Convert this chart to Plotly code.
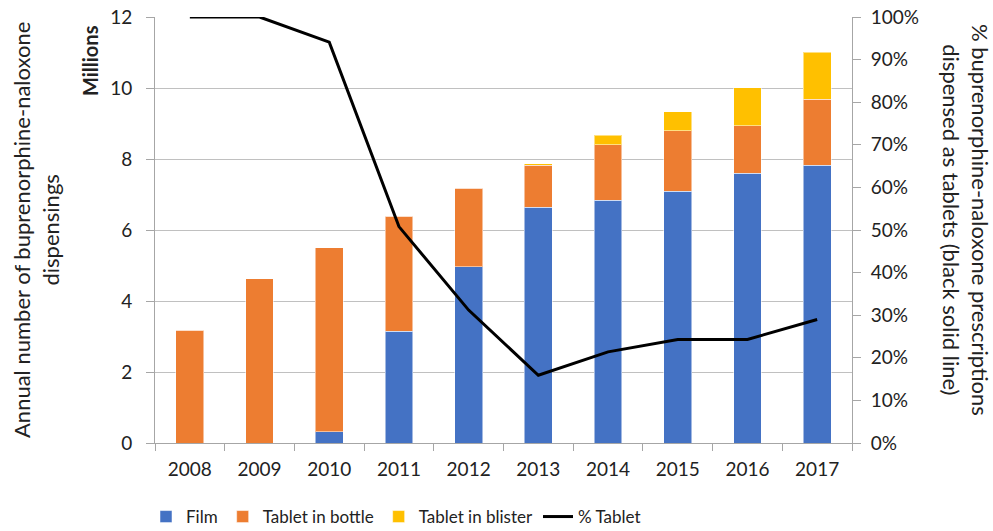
import plotly.graph_objects as go

years = ["2008", "2009", "2010", "2011", "2012", "2013", "2014", "2015", "2016", "2017"]
film = [0, 0, 0.32, 3.15, 4.96, 6.64, 6.84, 7.09, 7.60, 7.83]
tablet_bottle = [3.18, 4.63, 5.18, 3.24, 2.21, 1.19, 1.56, 1.70, 1.33, 1.86]
tablet_blister = [0, 0, 0, 0, 0, 0.03, 0.27, 0.54, 1.08, 1.32]
pct_tablet = [1.00, 1.00, 0.941, 0.508, 0.312, 0.159, 0.214, 0.243, 0.243, 0.290]

FONT = "Lato"
L, R, T, B = 155, 141, 17, 88
W, H = 993, 531
pw = W - L - R
ph = H - T - B


def px(x):
    return (x - L) / pw


def py(y):
    return (H - B - y) / ph


fig = go.Figure()
for name, vals, col in [("Film", film, "#4472C4"),
                        ("Tablet in bottle", tablet_bottle, "#ED7D31"),
                        ("Tablet in blister", tablet_blister, "#FFC000")]:
    fig.add_trace(go.Bar(x=years, y=vals, name=name,
                         marker=dict(color=col, line=dict(color="rgba(255,255,255,0.5)", width=1))))
fig.add_trace(go.Scatter(x=years, y=pct_tablet, name="% Tablet", yaxis="y2",
                         mode="lines", line=dict(color="black", width=3), cliponaxis=False))

fig.update_layout(
    width=W, height=H,
    margin=dict(l=L, r=R, t=T, b=B, autoexpand=False),
    barmode="stack", bargap=0.6,
    plot_bgcolor="white", paper_bgcolor="white",
    font=dict(family=FONT, size=19, color="#222"),
    showlegend=True,
    legend=dict(orientation="h", xref="container", x=146 / W, xanchor="left",
                yref="container", y=(H - 517) / H, yanchor="middle",
                font=dict(size=17), traceorder="normal"),
    xaxis=dict(type="category", showline=True, linecolor="#a6a6a6", linewidth=1,
               ticks="outside", tickson="boundaries", ticklen=7, tickcolor="#a6a6a6",
               tickfont=dict(size=19), automargin=False, ticklabelstandoff=9),
    yaxis=dict(range=[0, 12], dtick=2, showgrid=True, gridcolor="#c0c0c0", gridwidth=1,
               showline=True, linecolor="#a6a6a6", ticks="outside", ticklen=8,
               tickcolor="#a6a6a6", tickfont=dict(size=19), zeroline=False,
               automargin=False, ticklabelstandoff=10),
    yaxis2=dict(range=[0, 1], dtick=0.1, tickformat=".0%", overlaying="y", side="right",
                showgrid=False, showline=True, linecolor="#a6a6a6", ticks="outside",
                ticklen=8, tickcolor="#a6a6a6", tickfont=dict(size=19), zeroline=False,
                automargin=False, ticklabelstandoff=6),
    annotations=[
        dict(text="<b>Millions</b>", x=px(90), xref="paper", y=py(61), yref="paper",
             xanchor="center", yanchor="middle",
             showarrow=False, textangle=-90, font=dict(size=20)),
        dict(text="Annual number of buprenorphine-naloxone<br>dispensings",
             x=px(36), xref="paper", y=py(230), yref="paper", showarrow=False,
             xanchor="center", yanchor="middle",
             textangle=-90, font=dict(size=22)),
        dict(text="% buprenorphine-naloxone prescriptions<br>dispensed as tablets (black solid line)",
             x=px(966), xref="paper", y=py(220), yref="paper", showarrow=False, textangle=90,
             xanchor="center", yanchor="middle",
             font=dict(size=22)),
    ],
)

fig.write_html("out.html", config={"displayModeBar": False},
               post_script="document.body.style.margin='0px';document.body.style.overflow='hidden';")
